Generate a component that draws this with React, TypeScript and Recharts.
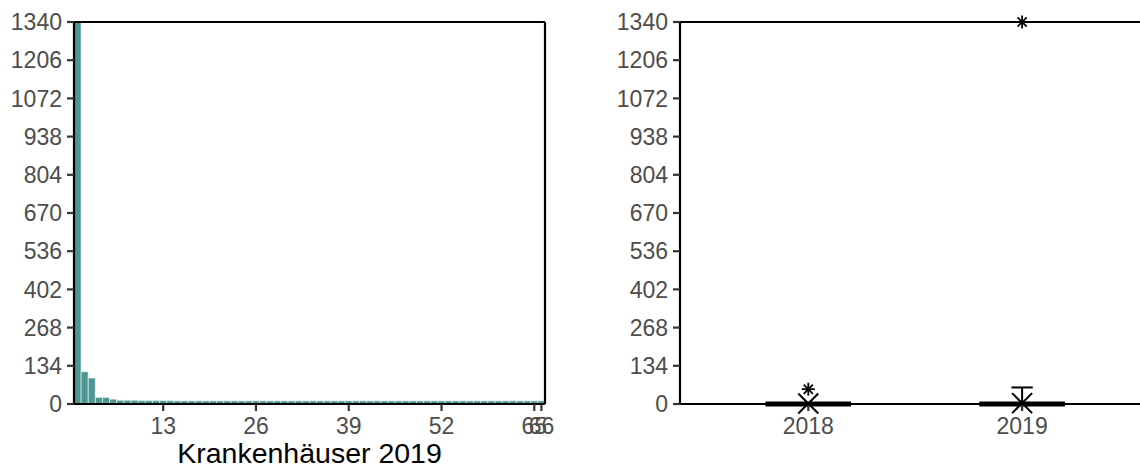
import { BarChart, Bar, ComposedChart, Scatter, XAxis, YAxis, ReferenceLine } from "recharts"

// left panel: number of cases per hospital rank (2019)
const ranks = Array.from({ length: 66 }, (_, i) => i + 1)
const counts2019 = [
  1340, 113, 91, 23, 23, 17, 13, 13, 13, 12, 12, 12, 12, 12, 11, 11, 11, 11, 11, 11, 11, 11,
  11, 11, 11, 11, 11, 11, 11, 11, 11, 11, 11, 11, 11, 11, 11, 11, 11, 11, 11, 11, 11, 11,
  11, 11, 11, 11, 11, 11, 11, 11, 11, 11, 11, 11, 11, 11, 11, 11, 11, 11, 11, 11, 11, 11,
]
const xTicks = [13, 26, 39, 52, 65, 66]
const yTicks = [0, 134, 268, 402, 536, 670, 804, 938, 1072, 1206, 1340]

// right panel: box plot per year
const years = ["2018", "2019"]
const boxLow = [0, 0]
const boxQ1 = [0, 0]
const boxMedian = [0, 0]
const boxQ3 = [0, 0]
const boxHigh = [0, 58]
const means = [2, 3]
const outliers = [
  { x: 1, y: 52 },
  { x: 2, y: 1340 },
]

const barData = ranks.map((r, i) => ({ x: r, n: counts2019[i] }))
const meanData = means.map((m, i) => ({ x: i + 1, y: m }))

const tickStyle = { fill: "#4d4d4d", fontSize: 23, fontFamily: "Liberation Sans, Arial, sans-serif" }
const tickLine = { stroke: "#333333", strokeWidth: 2.2 }
const axisLine = { stroke: "#000000", strokeWidth: 2.2 }

function Asterisk(props: any) {
  const { cx, cy } = props
  const r = 6.5
  const d = r * 0.7071
  return (
    <g stroke="#000" strokeWidth={1.8}>
      <line x1={cx} y1={cy - r} x2={cx} y2={cy + r} />
      <line x1={cx - r} y1={cy} x2={cx + r} y2={cy} />
      <line x1={cx - d} y1={cy - d} x2={cx + d} y2={cy + d} />
      <line x1={cx - d} y1={cy + d} x2={cx + d} y2={cy - d} />
    </g>
  )
}

function Cross(props: any) {
  const { cx, cy } = props
  const r = 10
  return (
    <g stroke="#000" strokeWidth={2}>
      <line x1={cx - r} y1={cy - r} x2={cx + r} y2={cy + r} />
      <line x1={cx - r} y1={cy + r} x2={cx + r} y2={cy - r} />
    </g>
  )
}

export default function App() {
  return (
    <div style={{ position: "absolute", left: 0, top: 0, width: 1140, height: 472, overflow: "hidden", background: "#fff" }}>
      {/* Histogram-like bar chart */}
      <div style={{ position: "absolute", left: 0, top: 0 }}>
        <BarChart width={570} height={472} data={barData} margin={{ top: 22, right: 25, bottom: 0, left: 8 }} barCategoryGap={0} barGap={0}>
          <XAxis
            dataKey="x"
            type="number"
            domain={[0.5, 66.5]}
            ticks={xTicks}
            interval={0}
            height={68}
            tick={tickStyle}
            tickLine={tickLine}
            tickSize={7}
            tickMargin={7}
            axisLine={axisLine}
            label={{ value: "Krankenhäuser 2019", position: "insideBottom", offset: 9, fill: "#000", fontSize: 28.5, fontFamily: "Liberation Sans, Arial, sans-serif" }}
          />
          <YAxis
            width={66}
            domain={[0, 1340]}
            ticks={yTicks}
            interval={0}
            tick={tickStyle}
            tickLine={tickLine}
            tickSize={7}
            tickMargin={5}
            axisLine={axisLine}
          />
          <Bar dataKey="n" fill="#4d9793" stroke="#ffffff" strokeWidth={0.5} isAnimationActive={false} />
          <ReferenceLine y={1340} stroke="#000" strokeWidth={2.2} />
          <ReferenceLine x={66.5} stroke="#000" strokeWidth={2.2} />
        </BarChart>
      </div>

      {/* Box plots */}
      <div style={{ position: "absolute", left: 600, top: 0 }}>
        <ComposedChart width={560} height={472} margin={{ top: 22, right: 9.6, bottom: 0, left: 14 }}>
          <XAxis
            dataKey="x"
            type="number"
            domain={[0.4, 2.6]}
            ticks={[1, 2]}
            interval={0}
            tickFormatter={(v: number) => years[v - 1]}
            height={68}
            tick={tickStyle}
            tickLine={tickLine}
            tickSize={7}
            tickMargin={7}
            axisLine={axisLine}
          />
          <YAxis
            dataKey="y"
            width={66}
            domain={[0, 1340]}
            ticks={yTicks}
            interval={0}
            tick={tickStyle}
            tickLine={tickLine}
            tickSize={7}
            tickMargin={5}
            axisLine={axisLine}
          />
          <ReferenceLine y={1340} stroke="#000" strokeWidth={2.2} />
          {years.map((_, i) => {
            const x = i + 1
            return [
              <ReferenceLine key={"w" + i} segment={[{ x, y: boxQ3[i] }, { x, y: boxHigh[i] }]} stroke="#000" strokeWidth={2} />,
              <ReferenceLine key={"wl" + i} segment={[{ x, y: boxLow[i] }, { x, y: boxQ1[i] }]} stroke="#000" strokeWidth={2} />,
              boxHigh[i] > boxQ3[i] ? (
                <ReferenceLine key={"c" + i} segment={[{ x: x - 0.05, y: boxHigh[i] }, { x: x + 0.05, y: boxHigh[i] }]} stroke="#000" strokeWidth={2} />
              ) : null,
              <ReferenceLine key={"q1" + i} segment={[{ x: x - 0.2, y: boxQ1[i] }, { x: x + 0.2, y: boxQ1[i] }]} stroke="#000" strokeWidth={2} />,
              <ReferenceLine key={"q3" + i} segment={[{ x: x - 0.2, y: boxQ3[i] }, { x: x + 0.2, y: boxQ3[i] }]} stroke="#000" strokeWidth={2} />,
              <ReferenceLine key={"m" + i} segment={[{ x: x - 0.2, y: boxMedian[i] }, { x: x + 0.2, y: boxMedian[i] }]} stroke="#000" strokeWidth={5} />,
            ]
          })}
          <Scatter data={meanData} dataKey="y" shape={Cross} isAnimationActive={false} />
          <Scatter data={outliers} dataKey="y" shape={Asterisk} isAnimationActive={false} />
        </ComposedChart>
      </div>
    </div>
  )
}
